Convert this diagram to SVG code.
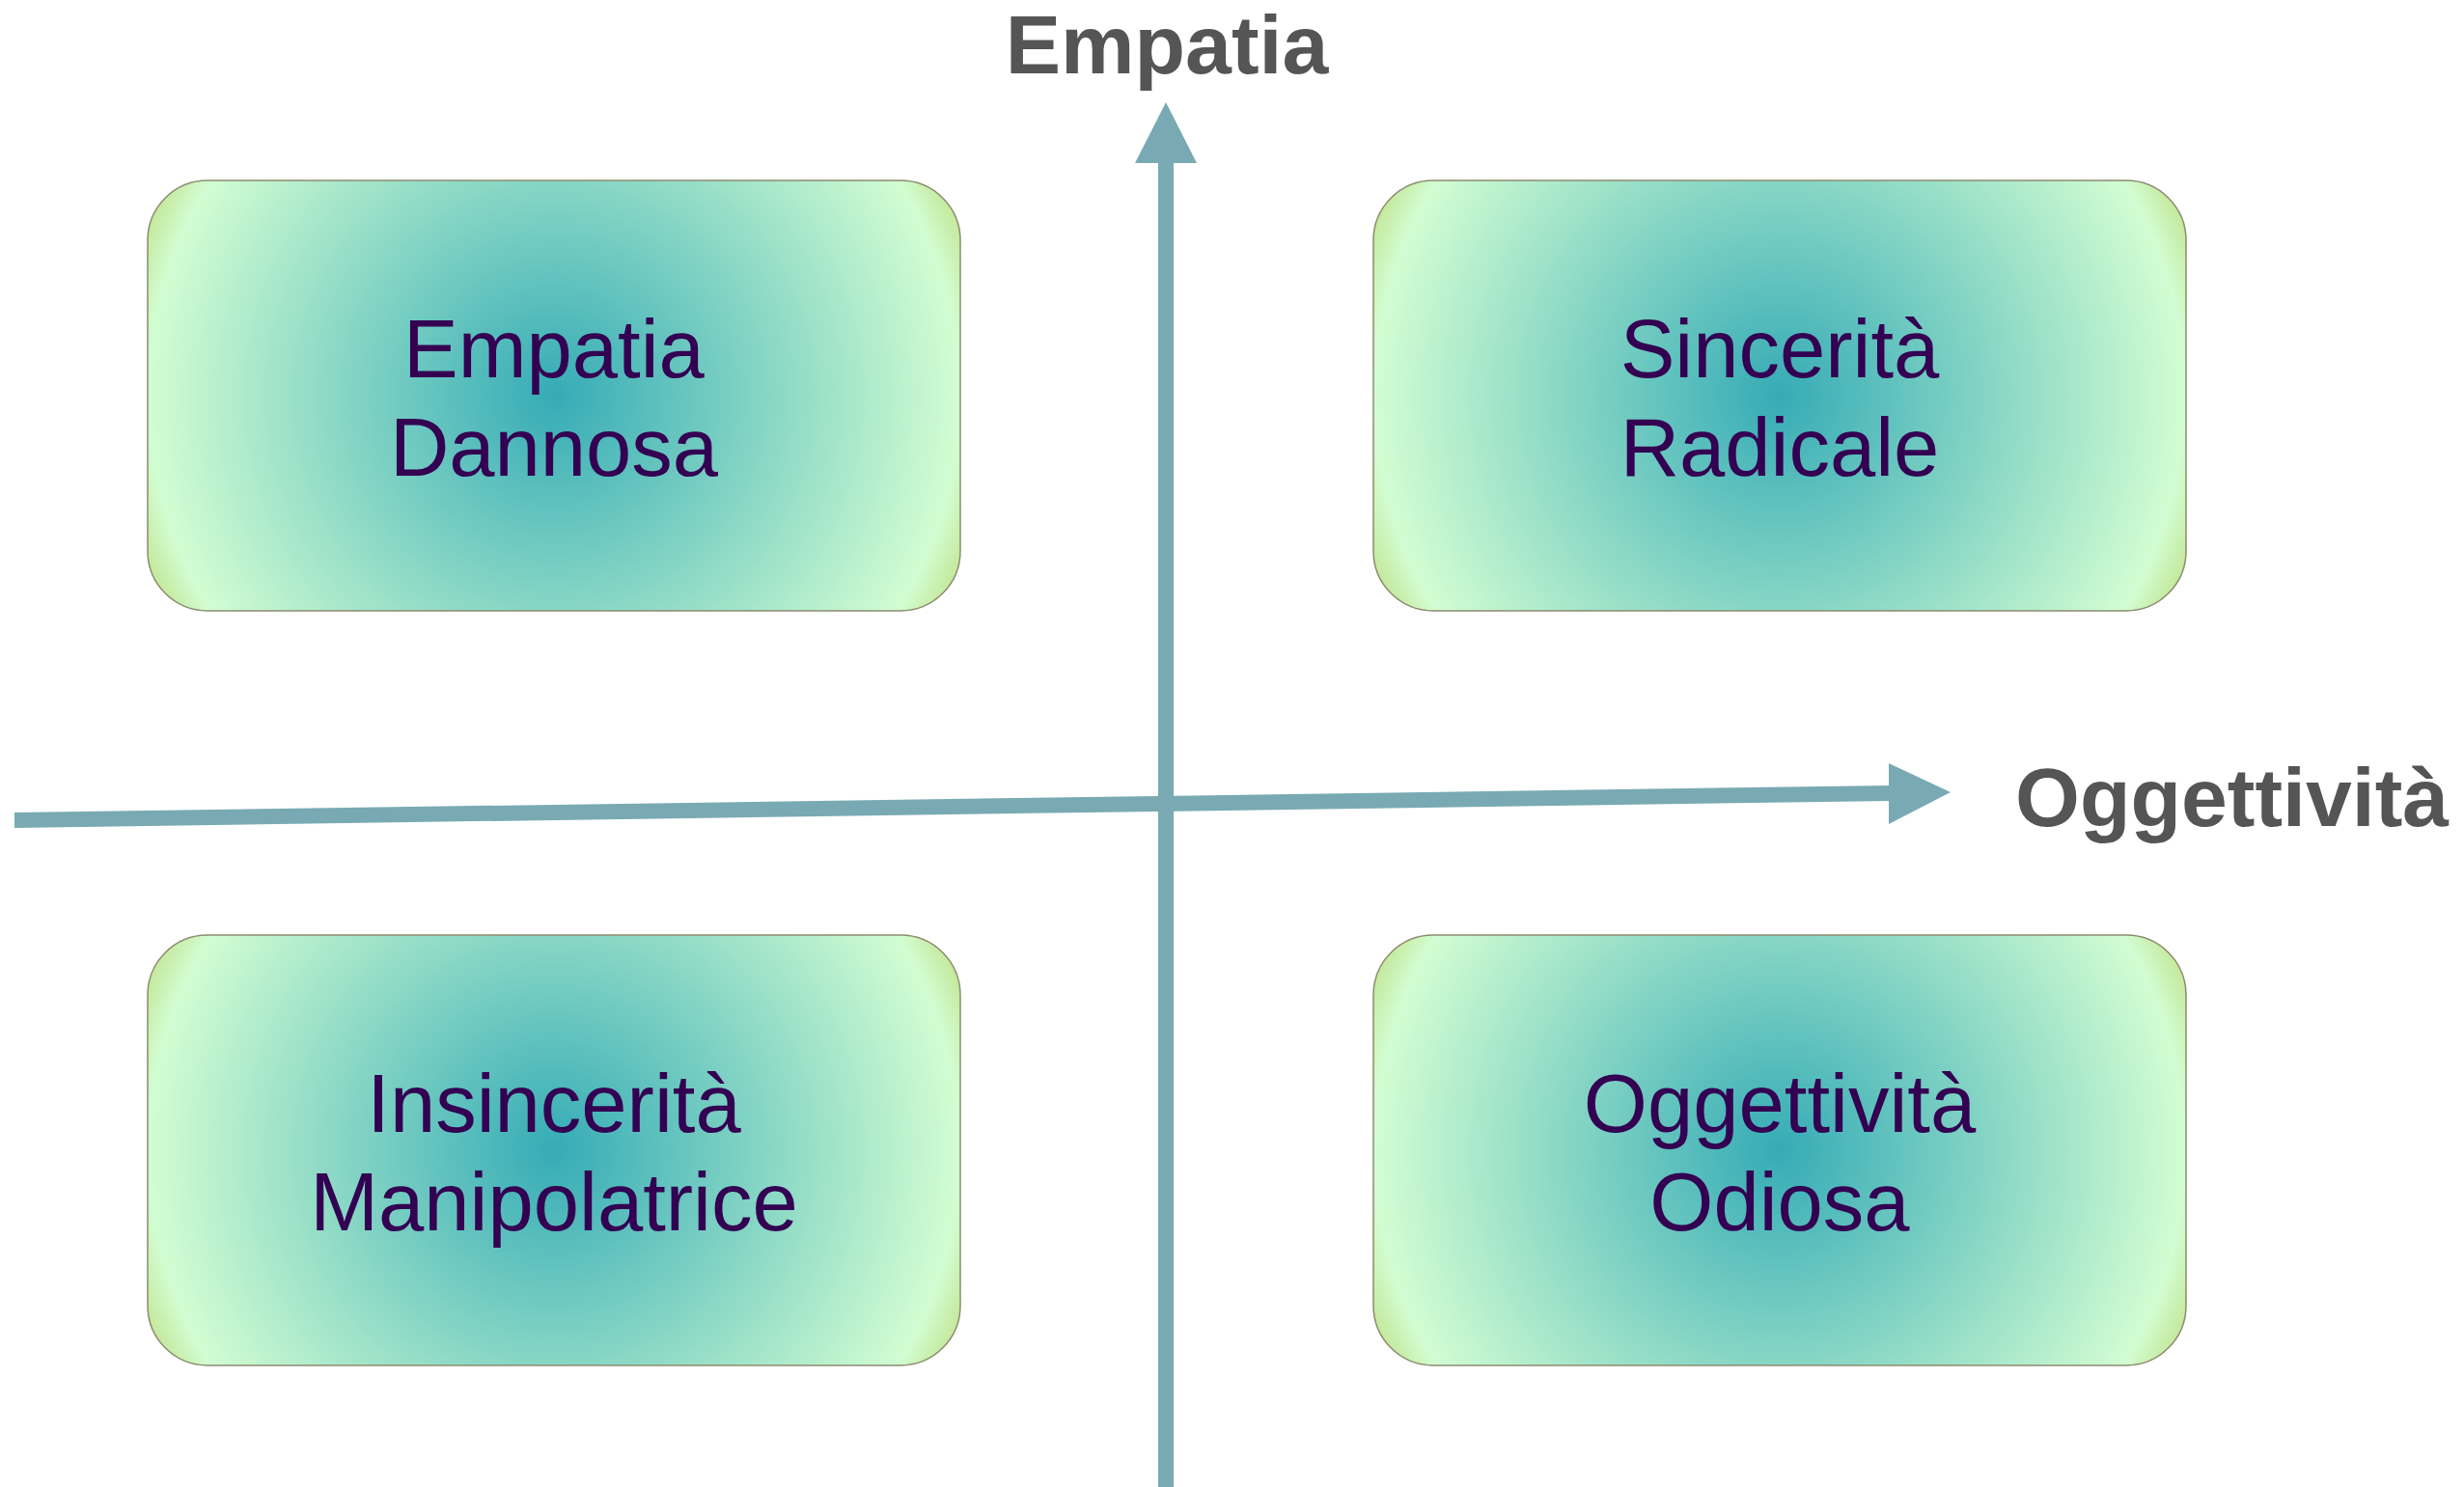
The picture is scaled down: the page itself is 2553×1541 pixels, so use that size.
<svg xmlns="http://www.w3.org/2000/svg" width="2553" height="1541" viewBox="0 0 2553 1541">
<style>
.box{stroke:#8c8c70;stroke-width:1.5;fill:url(#g)}
.lbl{font-family:"Liberation Sans",Arial,sans-serif;font-size:85px;fill:#330052;text-anchor:middle}
.axl{font-family:"Liberation Sans",Arial,sans-serif;font-size:86px;font-weight:bold;fill:#555555}
.ax{stroke:#79aab3;stroke-width:16;fill:none}
.ah{fill:#79aab3}
</style>
<defs>
<radialGradient id="g" cx="0.5" cy="0.5" r="0.558" gradientTransform="translate(0.5,0.5) scale(1,1.888) translate(-0.5,-0.5)">
<stop offset="0" stop-color="#35abb6"/>
<stop offset="0.894" stop-color="#d2fdd2"/>
<stop offset="1" stop-color="#bfe086"/>
</radialGradient>
</defs>
<rect width="2553" height="1541" fill="#ffffff"/>
<g id="connectors">
<line class="ax" x1="1208" y1="1541" x2="1208" y2="165"/>
<polygon class="ah" points="1208,106 1240,169 1176,169"/>
<line class="ax" x1="15" y1="850" x2="1960" y2="822"/>
<polygon class="ah" points="2021,821 1957,791 1957,854"/>
</g>
<g id="axis-empatia"><text class="axl" x="1209" y="76" text-anchor="middle">Empatia</text></g>
<g id="axis-oggettivita"><text class="axl" x="2088" y="856">Oggettività</text></g>
<g id="node-empatia-dannosa">
<rect class="box" x="153" y="187" width="842" height="446" rx="62" ry="62"/>
<text class="lbl" x="574" y="391">Empatia</text>
<text class="lbl" x="574" y="493">Dannosa</text>
</g>
<g id="node-sincerita-radicale">
<rect class="box" x="1423" y="187" width="842" height="446" rx="62" ry="62"/>
<text class="lbl" x="1844" y="391">Sincerità</text>
<text class="lbl" x="1844" y="493">Radicale</text>
</g>
<g id="node-insincerita-manipolatrice">
<rect class="box" x="153" y="969" width="842" height="446" rx="62" ry="62"/>
<text class="lbl" x="574" y="1173">Insincerità</text>
<text class="lbl" x="574" y="1275">Manipolatrice</text>
</g>
<g id="node-oggettivita-odiosa">
<rect class="box" x="1423" y="969" width="842" height="446" rx="62" ry="62"/>
<text class="lbl" x="1844" y="1173">Oggettività</text>
<text class="lbl" x="1844" y="1275">Odiosa</text>
</g>
</svg>
